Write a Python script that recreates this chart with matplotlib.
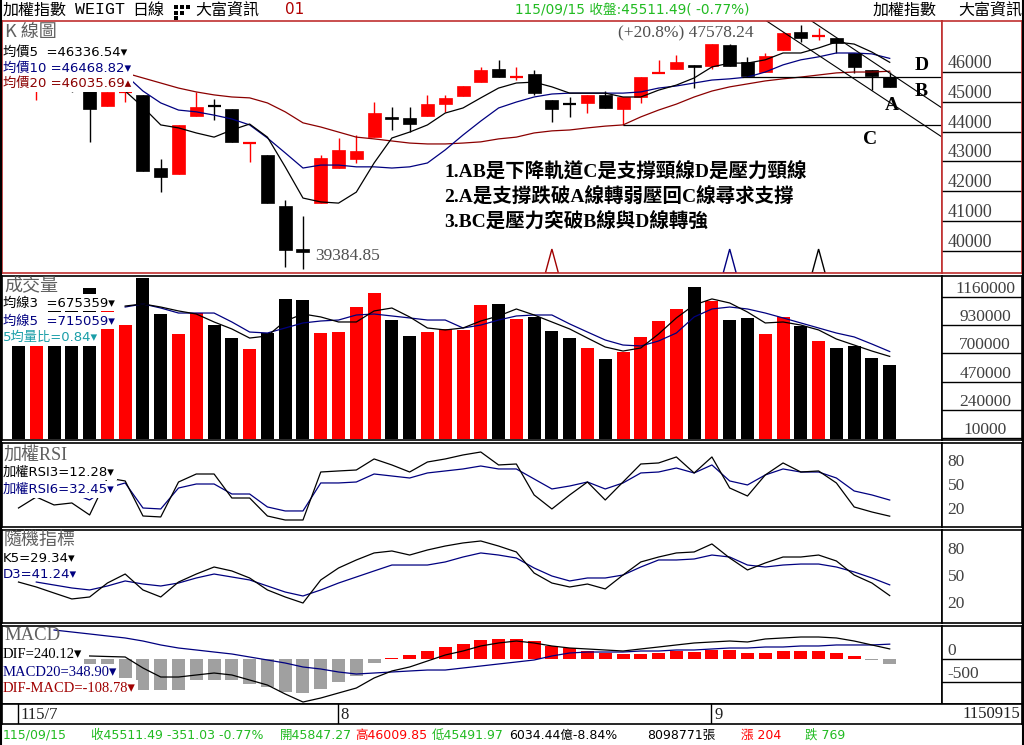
import matplotlib
matplotlib.use("Agg")
import matplotlib.pyplot as plt
import matplotlib.transforms as mtransforms
from matplotlib.patches import Rectangle, Polygon
from matplotlib.lines import Line2D
import numpy as np

nan = np.nan

# ---------------- data ----------------
open_ = [45650, 45450, 45700, 45600, 45550, 44870, 45330, 45240, 42780, 42580,
         44530, 44880, 44770, 43615, 43220, 41500, 40060, 41600, 42780, 43080,
         43820, 44500, 44460, 44530, 44930, 45200, 45670, 46110, 45835, 45940,
         45070, 44945, 44970, 45240, 44770, 45170, 45970, 46110, 46250, 46210,
         46920, 46350, 46010, 46750, 47360, 47205, 47150, 46650, 46080, 45847.27]
high = [45750, 45650, 45800, 45650, 45600, 45340, 45340, 45240, 43080, 44230,
        45340, 45100, 44770, 43660, 43220, 41700, 41170, 43220, 43790, 43890,
        45000, 44830, 44830, 45240, 45240, 45540, 46180, 46420, 46180, 46080,
        45070, 45170, 45240, 45370, 45170, 45840, 46420, 46580, 46250, 46950,
        46950, 46520, 46650, 47360, 47578.24, 47490, 47150, 46650, 46080, 46009.85]
low = [45500, 45070, 45450, 45340, 43660, 44870, 45000, 42680, 41970, 42580,
       44530, 44400, 43660, 42980, 41600, 39450, 39384.85, 41600, 42780, 42950,
       43820, 44060, 43990, 44530, 44670, 45200, 45670, 45840, 45740, 45240,
       44330, 44500, 44630, 44800, 44228, 44970, 45970, 46110, 45470, 46110,
       46210, 45843, 46010, 46750, 47020, 47090, 46650, 45980, 45400, 45491.97]
close = [45550, 45600, 45550, 45450, 44770, 45340, 45340, 42680, 42480, 44230,
         44830, 44860, 43660, 43625, 41600, 40020, 39960, 43120, 43390, 43350,
         44630, 44430, 44260, 44930, 45140, 45540, 46080, 45840, 45850, 45300,
         44770, 44925, 45240, 44800, 45170, 45840, 45980, 46350, 46180, 46950,
         46210, 45880, 46550, 47320, 47150, 47215, 46990, 46180, 45862.52, 45511.49]

ma5 = [nan, nan, nan, nan, 45370, 45370, 45370, 44830, 44230, 44130,
       43960, 43820, 44060, 44260, 43820, 42820, 41770, 41640, 41600, 41970,
       42950, 43790, 43990, 44230, 44630, 44800, 45140, 45470, 45640, 45670,
       45510, 45300, 45300, 45300, 45170, 45170, 45400, 45570, 45810, 46180,
       46310, 46310, 46420, 46650, 46650, 46820, 47020, 46950, 46680, 46336.54]
ma10 = [nan, nan, nan, nan, nan, nan, 45920, 45370, 44970, 44730,
        44670, 44560, 44430, 44230, 43790, 43290, 42780, 42880, 42880, 42820,
        42820, 42780, 42820, 42950, 43390, 43890, 44360, 44800, 45000, 45170,
        45270, 45300, 45300, 45300, 45300, 45340, 45470, 45540, 45640, 45740,
        45780, 45840, 46010, 46250, 46420, 46520, 46650, 46650, 46620, 46468.82]
ma20 = [nan, nan, nan, nan, nan, nan, 45980, 45810, 45640, 45470,
        45340, 45240, 45170, 45140, 44970, 44670, 44300, 44160, 43990, 43820,
        43760, 43690, 43620, 43590, 43590, 43620, 43660, 43760, 43820, 43960,
        44030, 44060, 44130, 44190, 44230, 44500, 44730, 44930, 45170, 45370,
        45510, 45610, 45710, 45780, 45840, 45910, 45980, 46010, 46010, 46035.69]

volume = [950000, 1000000, 1050000, 1077000, 1231000, 1096000, 931000, 1312000, 1021000, 858000,
          1027000, 931000, 825000, 735000, 869000, 1143000, 1135000, 869000, 874000, 1078000,
          1192000, 972000, 842000, 874000, 901000, 891000, 1097000, 1103000, 980000, 999000,
          883000, 825000, 744000, 654000, 714000, 834000, 964000, 1062000, 1244000, 1130000,
          972000, 988000, 858000, 997000, 926000, 801000, 744000, 760000, 662000, 605000]
vol_ma3 = [nan, nan, nan, nan, nan, nan, 1086000, 1103000, 1078000, 1046000,
           1021000, 956000, 899000, 825000, 842000, 964000, 1021000, 997000, 956000, 956000,
           1046000, 1070000, 997000, 907000, 891000, 907000, 964000, 1005000, 1062000, 1013000,
           956000, 899000, 825000, 752000, 719000, 744000, 858000, 989000, 1095000, 1144000,
           1111000, 1037000, 948000, 956000, 931000, 891000, 817000, 768000, 719000, 675359]
vol_ma5 = [nan, nan, nan, nan, nan, nan, 1078000, 1103000, 1070000, 1029000,
           1029000, 1029000, 956000, 874000, 866000, 907000, 948000, 964000, 972000, 1013000,
           1021000, 1005000, 989000, 972000, 972000, 907000, 931000, 972000, 1005000, 1013000,
           1013000, 940000, 874000, 809000, 768000, 760000, 801000, 866000, 997000, 1062000,
           1078000, 1062000, 1029000, 989000, 948000, 907000, 866000, 834000, 776000, 715059]
vol_ratio5 = 0.84

rsi3 = [22.5, 36.3, 26.3, 28.8, 13.8, 60, 56.3, 12.5, 11.3, 55,
        65, 65, 35, 35, 12.5, 7.5, 7.5, 67.5, 68.8, 70,
        83.8, 76.3, 67.5, 80, 83.8, 88.8, 92.5, 76.3, 77.5, 38.8,
        21.3, 38.8, 55, 32.5, 55, 77.5, 78.8, 86.3, 66.3, 86.3,
        47.5, 37.5, 63.8, 78.8, 67.5, 68.8, 53.8, 23.8, 17.5, 12.28]
rsi6 = [nan, nan, nan, 41.3, 32.5, 47.5, 53.8, 22.5, 21.3, 47.5,
        52.5, 52.5, 40, 40, 23.8, 18.8, 18.8, 53.8, 53.8, 55,
        65, 62.5, 60, 66.3, 68.8, 71.3, 75, 71.3, 71.3, 58.8,
        46.3, 50, 55, 46.3, 53.8, 66.3, 67.5, 72.5, 66.3, 76.3,
        56.3, 51.3, 63.8, 71.3, 67.5, 67.5, 60, 43.8, 38.8, 32.45]

k5 = [44.4, 38.9, 32.2, 25.6, 27.8, 43.3, 53.3, 35.6, 27.8, 44.4,
      53.3, 61.1, 56.7, 48.9, 35.6, 27.8, 21.1, 46.7, 60, 68.9,
      76.7, 78.9, 74.4, 80, 84.4, 87.8, 90, 84.4, 77.8, 54.4,
      43.3, 38.9, 42.2, 36.7, 52.2, 66.7, 72.2, 76.7, 77.8, 86.7,
      71.1, 57.8, 65.6, 72.2, 72.2, 74.4, 67.8, 52.2, 43.3, 29.34]
d3 = [nan, 44.4, 41.1, 37.8, 35.6, 40, 45.6, 42.2, 40, 43.3,
      48.9, 53.3, 50, 46.7, 40, 33.3, 28.9, 35.6, 43.3, 50,
      56.7, 63.3, 63.3, 63.3, 66.7, 72.2, 76.7, 74.4, 71.1, 60,
      51.1, 45.6, 48.9, 48.9, 52.2, 61.1, 68.9, 68.9, 70, 74.4,
      72.2, 63.3, 61.1, 63.3, 64.4, 64.4, 61.1, 55.6, 48.9, 41.24]

dif = [nan, nan, nan, nan, 80, 68, 57, -193, -398, -398,
       -352, -307, -352, -466, -580, -784, -966, -875, -761, -648,
       -420, -261, -170, -34, 102, 193, 307, 375, 420, 375,
       307, 261, 239, 216, 193, 239, 284, 330, 375, 398,
       420, 398, 466, 489, 511, 511, 489, 420, 330, 240.12]
macd20 = [nan, nan, 670, 625, 580, 534, 489, 420, 330, 261,
          216, 170, 125, 57, -11, -80, -170, -216, -284, -330,
          -307, -284, -261, -239, -239, -193, -148, -102, -57, -11,
          80, 148, 170, 170, 170, 193, 193, 216, 216, 239,
          261, 261, 284, 284, 307, 307, 330, 330, 330, 348.90]
osc = [-480, -490, -500, -500, -500, -470, -430, -700, -700, -700,
       -470, -470, -470, -560, -630, -730, -760, -680, -500, -370,
       -80, 40, 100, 190, 290, 350, 440, 460, 465, 420,
       315, 255, 195, 155, 120, 125, 155, 200, 180, 215,
       215, 155, 155, 200, 200, 200, 140, 80, -15, -108.78]

price_ticks = [46000, 45000, 44000, 43000, 42000, 41000, 40000]
vol_ticks = [1160000, 930000, 700000, 470000, 240000, 10000]
osc_ticks = [80, 50, 20]
macd_ticks = [0, -500]
month_idx = [0, 18, 39]
month_lbl = ['115/7', '8', '9']
signal_idx = [30, 40, 45]
signal_col = ['#a00000', '#000080', 'black']
support_c = 44228      # neckline C
resist_d = 45843       # neckline D
line_a = [(41.99, 47760), (51.94, 43824)]
line_b = [(44.52, 47760), (51.94, 44800)]

# ---------------- layout ----------------
W, H = 1024, 745
fig = plt.figure(figsize=(W / 100, H / 100), dpi=100)
fig.patch.set_facecolor('white')

LEG = ['DejaVu Sans', 'Noto Sans CJK TC']
CJK = ['Noto Sans CJK TC', 'DejaVu Sans']
SERIF = ['Liberation Serif', 'Noto Sans CJK TC', 'DejaVu Sans']
RED = '#ff0000'
NAVY = '#000080'
MAROON = '#8b0000'
GREEN = '#22bb22'
FRAME_RED = '#c03030'
TITLE_GRAY = '#606060'
AX_GRAY = '#404040'

X0, X1, XR = 2, 942, 1022
PITCH, FIRST = 17.78, 18.5
BW = 13 / PITCH
xs = np.arange(len(close))


def to_idx(px):
    return (px - FIRST) / PITCH


def add_px(x0, y0, x1, y1):
    return fig.add_axes([x0 / W, 1 - y1 / H, (x1 - x0) / W, (y1 - y0) / H])


def ftext(x, y, s, **kw):
    kw.setdefault('va', 'center')
    kw.setdefault('ha', 'left')
    return fig.text(x / W, 1 - y / H, s, **kw)


def panel(y0, y1, ylim, edge='black'):
    ax = add_px(X0, y0, X1, y1)
    axr = add_px(X1, y0, XR, y1)
    for a in (ax, axr):
        a.set_xticks([])
        a.set_yticks([])
        a.set_ylim(*ylim)
        for sp in a.spines.values():
            sp.set_color(edge)
            sp.set_linewidth(1.2)
    ax.set_xlim(to_idx(X0), to_idx(X1))
    axr.set_xlim(0, 1)
    return ax, axr


legend_rows = []


def legend(x, y, s, color, fam=LEG, size=9.5, below=8.5):
    t = ftext(x, y, s, color=color, family=fam, fontsize=size, zorder=5)
    legend_rows.append((t, y, below))


cols = [RED if c >= o else 'black' for o, c in zip(open_, close)]

# ---------------- K panel ----------------
axk, axkr = panel(21, 273, (39249, 47726), edge=FRAME_RED)
for i in xs:
    o, h, l, c = open_[i], high[i], low[i], close[i]
    axk.vlines(i, l, h, color=cols[i], lw=1)
    lo, hi = min(o, c), max(o, c)
    if hi - lo < 50:
        axk.hlines((o + c) / 2, i - BW / 2, i + BW / 2, color=cols[i], lw=1.6)
    else:
        axk.add_patch(Rectangle((i - BW / 2, lo), BW, hi - lo, facecolor=cols[i],
                                edgecolor=cols[i], lw=0.5))
axk.plot(xs, ma20, color=MAROON, lw=0.9)
axk.plot(xs, ma10, color=NAVY, lw=0.9)
axk.plot(xs, ma5, color='black', lw=0.9)

xr = to_idx(X1)
axk.hlines(support_c, 34, xr, color='black', lw=0.9)
axk.hlines(resist_d, 40.7, xr, color='black', lw=0.9)
for seg in (line_a, line_b):
    axk.plot([seg[0][0], seg[1][0]], [seg[0][1], seg[1][1]], color='black', lw=0.8)

tri = mtransforms.blended_transform_factory(axk.transData, axk.transAxes)
for i, c in zip(signal_idx, signal_col):
    axk.add_patch(Polygon([[i - BW / 2, 0.0], [i, 0.095], [i + BW / 2, 0.0]], closed=True,
                          fill=False, edgecolor=c, lw=1, transform=tri))

for v in price_ticks:
    axkr.axhline(v, color='black', lw=1)
    axkr.text(0.07, v, f'{v}', va='bottom', ha='left', family=SERIF, fontsize=13, color=AX_GRAY)

ftext(5, 32, 'K 線圖', color=TITLE_GRAY, family=CJK, fontsize=13)
legend(3, 52, f'均價5  ={ma5[-1]:.2f}▾', 'black')
legend(3, 68, f'均價10 ={ma10[-1]:.2f}▾', NAVY)
legend(3, 83, f'均價20 ={ma20[-1]:.2f}▴', MAROON)

ftext(315, 256, f'{low[16]:.2f}', color='#505050', family=SERIF, fontsize=12.5)
ftext(618, 33, f'(+20.8%) {high[44]:.2f}', color='#505050', family=SERIF, fontsize=12.5)
for s, x, y in (('A', 885, 106), ('B', 915, 92), ('C', 863, 140), ('D', 915, 65)):
    ftext(x, y, s, color='black', family=SERIF, fontsize=14, fontweight='bold')
notes = ['1.AB是下降軌道C是支撐頸線D是壓力頸線',
         '2.A是支撐跌破A線轉弱壓回C線尋求支撐',
         '3.BC是壓力突破B線與D線轉強']
for k, s in enumerate(notes):
    ftext(444, 172 + 25 * k, s, color='black', family=SERIF, fontsize=14, fontweight='bold')

# ---------------- volume ----------------
axv, axvr = panel(276, 440, (-6525, 1331000))
axv.bar(xs, volume, width=BW, color=cols, edgecolor='none')
axv.plot(xs, vol_ma5, color=NAVY, lw=0.9)
axv.plot(xs, vol_ma3, color='black', lw=0.9)
for v in vol_ticks:
    axvr.axhline(v, color='black', lw=1)
    axvr.text(0.54, v, f'{v}', va='bottom', ha='center', family=SERIF, fontsize=12.5, color=AX_GRAY)
ftext(4, 285, '成交量', color=TITLE_GRAY, family=CJK, fontsize=13)
legend(3, 303, f'均線3  ={vol_ma3[-1]}▾', 'black')
legend(3, 321, f'均線5  ={vol_ma5[-1]}▾', NAVY)
legend(3, 337, f'5均量比={vol_ratio5:.2f}▾', '#1a9ea8')

# ---------------- RSI ----------------
axr_, axrr = panel(443, 527, (-1.25, 103.75))
axr_.plot(xs, rsi6, color=NAVY, lw=0.9)
axr_.plot(xs, rsi3, color='black', lw=0.9)
for v in osc_ticks:
    axrr.text(0.07, v, f'{v}', va='center', ha='left', family=SERIF, fontsize=12.5, color=AX_GRAY)
ftext(4, 455, '加權RSI', color=TITLE_GRAY, family=SERIF, fontsize=13)
legend(3, 472, f'加權RSI3={rsi3[-1]:.2f}▾', 'black')
legend(3, 489, f'加權RSI6={rsi6[-1]:.2f}▾', NAVY)

# ---------------- KD ----------------
axs, axsr = panel(530, 623, (-1.1, 102.2))
axs.plot(xs, d3, color=NAVY, lw=0.9)
axs.plot(xs, k5, color='black', lw=0.9)
for v in osc_ticks:
    axsr.text(0.07, v, f'{v}', va='center', ha='left', family=SERIF, fontsize=12.5, color=AX_GRAY)
ftext(4, 540, '隨機指標', color=TITLE_GRAY, family=CJK, fontsize=13)
legend(3, 558, f'K5={k5[-1]:.2f}▾', 'black')
legend(3, 575, f'D3={d3[-1]:.2f}▾', NAVY, below=5)

# ---------------- MACD ----------------
axm, axmr = panel(626, 704, (-1011, 761))
osc_col = [RED if v > 0 else '#a0a0a0' for v in osc]
axm.bar(xs, osc, width=BW, color=osc_col, edgecolor='none')
axm.plot(xs, macd20, color=NAVY, lw=0.9)
axm.plot(xs, dif, color='black', lw=0.9)
for v in macd_ticks:
    axmr.axhline(v, color='black', lw=1)
    axmr.text(0.07, v, f'{v}', va='bottom', ha='left', family=SERIF, fontsize=12.5, color=AX_GRAY)
ftext(4, 636, 'MACD', color=TITLE_GRAY, family=SERIF, fontsize=13.5)
legend(3, 655, f'DIF={dif[-1]:.2f}▾', 'black', fam=SERIF, size=10.5)
legend(3, 672, f'MACD20={macd20[-1]:.2f}▾', NAVY, fam=SERIF, size=10.5)
legend(3, 688, f'DIF-MACD={osc[-1]:.2f}▾', '#a00000', fam=SERIF, size=10.5)

# ---------------- date strip ----------------
axd = add_px(X0, 704, XR, 724)
axd.set_xlim(to_idx(X0), to_idx(XR))
axd.set_ylim(0, 1)
axd.set_xticks([])
axd.set_yticks([])
for sp in axd.spines.values():
    sp.set_linewidth(1.2)
for i, s in zip(month_idx, month_lbl):
    axd.axvline(i - 0.05, color='black', lw=1)
    axd.text(i + 0.12, 0.45, s, va='center', ha='left', family=SERIF, fontsize=12, color='#202020')
ftext(1020, 714, '1150915', ha='right', family=SERIF, fontsize=12, color='#202020')

# ---------------- header ----------------
ftext(3, 10, '加權指數', color='black', family=CJK, fontsize=11.5)
ftext(75, 10, 'WEIGT', color='black', family=['Liberation Mono'], fontsize=12)
ftext(132, 10, '日線', color='black', family=CJK, fontsize=11.5)
for (qx, qy) in ((174, 5), (180, 5), (186, 5), (174, 11), (180, 11), (174, 16)):
    fig.add_artist(Rectangle((qx / W, 1 - (qy + 4) / H), 4 / W, 4 / H, transform=fig.transFigure,
                             facecolor='black', edgecolor='none'))
ftext(195, 10, '大富資訊', color='black', family=CJK, fontsize=11.5)
ftext(285, 10, '01', color='#b00000', family=LEG, fontsize=11)
ftext(515, 10, f'115/09/15 收盤:{close[-1]:.2f}( -0.77%)', color=GREEN, family=LEG, fontsize=9.8)
ftext(873, 10, '加權指數', color='black', family=CJK, fontsize=11.5)
ftext(958, 10, '大富資訊', color='black', family=CJK, fontsize=11.5)

# ---------------- status bar ----------------
status = [(3, '115/09/15', GREEN), (91, f'收{close[-1]:.2f} -351.03 -0.77%', GREEN),
          (280, f'開{open_[-1]:.2f}', GREEN), (355, f'高{high[-1]:.2f}', RED),
          (432, f'低{low[-1]:.2f}', GREEN), (509, '6034.44億-8.84%', 'black'),
          (647, '8098771張', 'black'), (741, '漲 204', RED), (805, '跌 769', GREEN)]
for x, s, c in status:
    ftext(x, 735, s, color=c, family=LEG, fontsize=9)

# outer frame
for xx in (1.0, 1022.5):
    fig.add_artist(Line2D([xx / W, xx / W], [0, 1], transform=fig.transFigure, color='black', lw=1.5))

# white backgrounds behind legend rows (they hide the oldest bars, as in the original)
fig.canvas.draw()
rend = fig.canvas.get_renderer()
for t, y, below in legend_rows:
    bb = t.get_window_extent(rend)
    fig.add_artist(Rectangle((3 / W, 1 - (y + below) / H), (bb.x1 + 2 - 3) / W, (8.5 + below) / H,
                             transform=fig.transFigure, facecolor='white', edgecolor='none', zorder=4))

fig.savefig('out.png', dpi=100)
